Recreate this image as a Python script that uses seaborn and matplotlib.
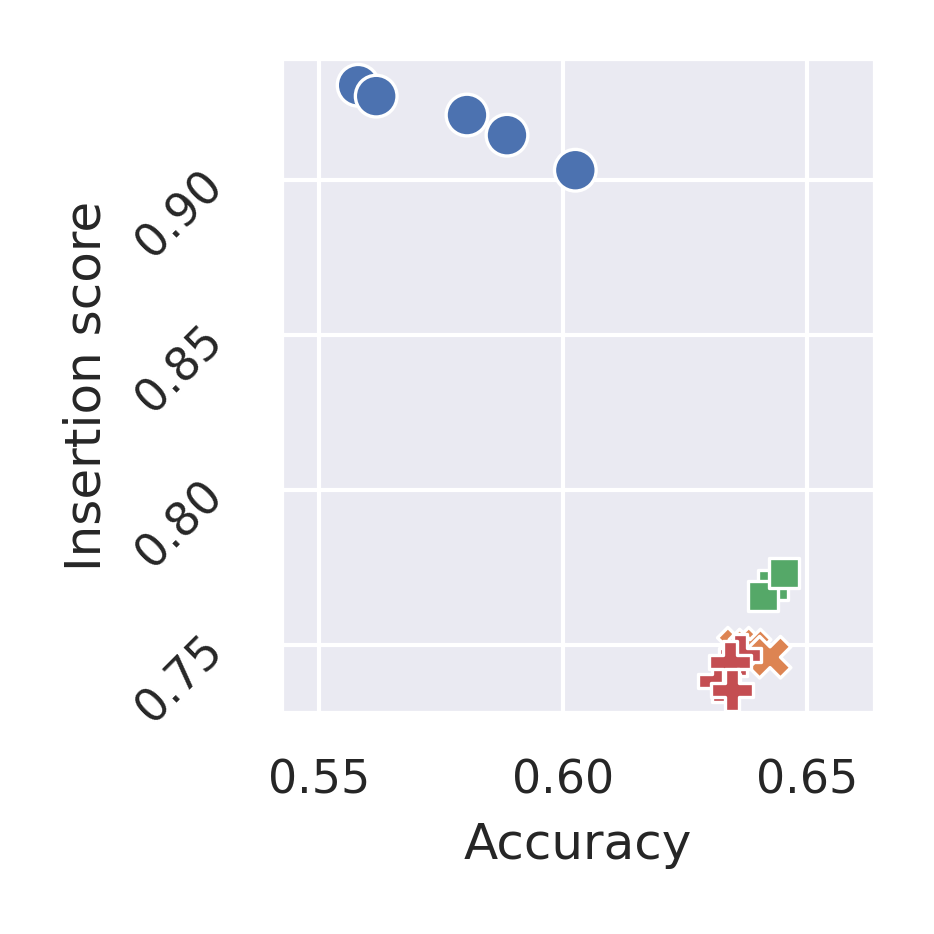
import pandas as pd
import matplotlib.pyplot as plt
import seaborn as sns

# values
methods = ['A'] * 5 + ['B'] * 3 + ['C'] * 3 + ['D'] * 4
accuracy = [0.5580, 0.5617, 0.5803, 0.5885, 0.6025,
            0.6359, 0.6383, 0.6424,
            0.6430, 0.6410, 0.6453,
            0.6363, 0.6320, 0.6342, 0.6346]
insertion = [0.9306, 0.9271, 0.9210, 0.9145, 0.9032,
             0.7490, 0.7484, 0.7461,
             0.7694, 0.7658, 0.7732,
             0.7468, 0.7385, 0.7445, 0.7355]

df = pd.DataFrame({'Method': methods, 'Accuracy': accuracy, 'Insertion score': insertion})

sns.set_theme(style='darkgrid', context='notebook')
xpad = plt.rcParams['xtick.major.pad']
ypad = plt.rcParams['ytick.major.pad']

fig = plt.figure(figsize=(934 / 300, 934 / 300), dpi=300)
ax = fig.add_axes([0.3009, 0.2366, 0.6359, 0.7013])
sns.scatterplot(data=df, x='Accuracy', y='Insertion score', hue='Method', style='Method',
                s=100, legend=False, ax=ax)

ax.set_xlim(0.5422, 0.6639)
ax.set_ylim(0.7281, 0.9394)
ax.set_xticks([0.55, 0.60, 0.65])
ax.set_yticks([0.75, 0.80, 0.85, 0.90])
ax.tick_params(axis='x', pad=xpad + 1.5)
ax.tick_params(axis='y', pad=ypad + 2.4)
plt.setp(ax.get_yticklabels(), rotation=45)

fig.savefig('out.png', dpi=300)
